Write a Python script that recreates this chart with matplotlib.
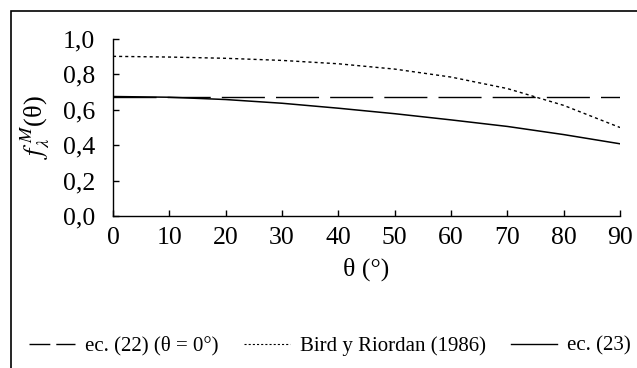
import matplotlib
matplotlib.use("Agg")
import matplotlib.pyplot as plt
from matplotlib.lines import Line2D
from matplotlib.patches import Rectangle
from matplotlib.ticker import FuncFormatter

plt.rcParams['font.family'] = ['Liberation Serif', 'DejaVu Serif']
plt.rcParams['mathtext.fontset'] = 'stix'
plt.rcParams['lines.scale_dashes'] = False

theta = [0, 10, 20, 30, 40, 50, 60, 70, 80, 90]
ec22 = [0.675] * len(theta)
bird = [0.902, 0.898, 0.891, 0.879, 0.860, 0.830, 0.785, 0.720, 0.625, 0.500]
ec23 = [0.675, 0.671, 0.658, 0.637, 0.609, 0.578, 0.543, 0.506, 0.460, 0.408]

labels = ['ec. (22) (θ = 0°)', 'Bird y Riordan (1986)', 'ec. (23)']

fig = plt.figure(figsize=(6.37, 3.68), dpi=100)
ax = fig.add_axes([113/637, 1 - 216/368, (620 - 113)/637, (216 - 39)/368])

ax.plot(theta, ec22, color='black', lw=1.0, dashes=(31, 8))
ax.plot(theta, bird, color='black', lw=1.0, dashes=(2.2, 2.2))
ax.plot(theta, ec23, color='black', lw=1.1)

ax.set_xlim(0, 90)
ax.set_ylim(0, 1.0)
ax.set_xticks(range(0, 91, 10))
ax.set_yticks([0, 0.2, 0.4, 0.6, 0.8, 1.0])
ax.yaxis.set_major_formatter(FuncFormatter(lambda v, p: f'{v:.1f}'.replace('.', ',')))
ax.tick_params(direction='in', length=4.5, width=1, labelsize=18.5)
ax.tick_params(axis='y', pad=13)
ax.tick_params(axis='x', pad=8)
for s in ['top', 'right']:
    ax.spines[s].set_visible(False)
for s in ['left', 'bottom']:
    ax.spines[s].set_linewidth(1)

ax.set_xlabel('θ (°)', fontsize=18.5, labelpad=6)
ax.set_ylabel(r'$f_\lambda^{\,M}$(θ)', fontsize=19, labelpad=8)

handles = [
    Line2D([], [], color='black', lw=1.0, dashes=(15, 4.3)),
    Line2D([], [], color='black', lw=0.8, dashes=(1.5, 1.5)),
    Line2D([], [], color='black', lw=1.0),
]
fig.legend(handles, labels, ncol=3, loc='center', bbox_to_anchor=(0.518, 1 - 346/368),
           frameon=False, fontsize=15, handlelength=2.2, columnspacing=1.2,
           handletextpad=0.5)

fig.patches.append(Rectangle((11/637, -0.05), 1.0, (368 - 10.5)/368 + 0.05,
                             transform=fig.transFigure, fill=False,
                             edgecolor='black', lw=1.2, figure=fig))

fig.savefig('out.png', dpi=100)
